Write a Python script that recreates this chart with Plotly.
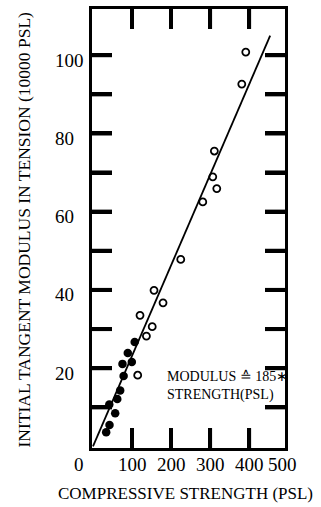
import plotly.graph_objects as go

# Data
open_x = [391.5, 381.3, 311.0, 306.9, 317.2, 281.3, 224.9, 156.4, 179.5, 120.5, 151.8, 136.9, 114.6]
open_y = [100.8, 92.6, 75.5, 68.9, 65.9, 62.5, 47.8, 39.9, 36.7, 33.5, 30.6, 28.2, 18.2]
filled_x = [106.9, 89.2, 75.6, 99.5, 78.5, 69.7, 62.3, 41.8, 56.9, 42.3, 33.8]
filled_y = [26.7, 23.9, 21.1, 21.6, 18.0, 14.3, 12.1, 10.7, 8.5, 5.5, 3.6]
fit_x = [0, 454]
fit_y = [0, 105]
x_ticks = [100, 200, 300, 400]
x_tick_labels = ["100", "200", "300", "400"]
y_ticks = [10, 20, 30, 40, 50, 60, 70, 80, 90, 100]
y_label_vals = [20, 40, 60, 80, 100]

FONT = "Liberation Serif"
W, H = 321, 507
ML, MR, MT, MB = 92, 36, 6, 59
PW = W - ML - MR
PH = H - MT - MB
X_RANGE = [-2.5, 492]
Y_RANGE = [-0.4, 111.8]
XU = (X_RANGE[1] - X_RANGE[0]) / PW
YU = (Y_RANGE[1] - Y_RANGE[0]) / PH
TL = 20

def px_x(p):
    return (p - ML) / PW

def px_y(p):
    return (H - MB - p) / PH

fig = go.Figure()

# tick marks as individual line traces (one per tick, no gaps)
for v in y_ticks:
    for xs in ([X_RANGE[0], X_RANGE[0] + TL * XU], [X_RANGE[1] - TL * XU, X_RANGE[1]]):
        fig.add_trace(go.Scatter(x=xs, y=[v, v], mode="lines",
                                 line=dict(color="black", width=4), hoverinfo="skip"))
for v in x_ticks:
    for ys in ([Y_RANGE[0], Y_RANGE[0] + TL * YU], [Y_RANGE[1] - TL * YU, Y_RANGE[1]]):
        fig.add_trace(go.Scatter(x=[v, v], y=ys, mode="lines",
                                 line=dict(color="black", width=4), hoverinfo="skip"))

fig.add_trace(go.Scatter(x=fit_x, y=fit_y, mode="lines",
                         line=dict(color="black", width=1.8), hoverinfo="skip"))
fig.add_trace(go.Scatter(x=open_x, y=open_y, mode="markers",
                         marker=dict(symbol="circle-open", size=7, color="black",
                                     line=dict(width=1.8))))
fig.add_trace(go.Scatter(x=filled_x, y=filled_y, mode="markers",
                         marker=dict(symbol="circle", size=8.5, color="black")))

ann = []
for v, t in zip(x_ticks, x_tick_labels):
    ann.append(dict(x=v, xref="x", y=px_y(465), yref="paper", text=t, showarrow=False,
                    xanchor="center", yanchor="middle", font=dict(family=FONT, size=19, color="black")))
ann.append(dict(x=px_x(79), xref="paper", y=px_y(465), yref="paper", text="0", showarrow=False,
                xanchor="center", yanchor="middle", font=dict(family=FONT, size=19, color="black")))
ann.append(dict(x=px_x(282), xref="paper", y=px_y(465), yref="paper", text="500", showarrow=False,
                xanchor="center", yanchor="middle", font=dict(family=FONT, size=19, color="black")))
for v in y_label_vals:
    ann.append(dict(x=px_x(53), xref="paper", y=v, yref="y", yshift=-5, text=str(v), showarrow=False,
                    xanchor="left", yanchor="middle", font=dict(family=FONT, size=19, color="black")))
ann.append(dict(x=px_x(185), xref="paper", y=px_y(494), yref="paper",
                text="COMPRESSIVE STRENGTH (PSL)", showarrow=False,
                xanchor="center", yanchor="middle", font=dict(family=FONT, size=17, color="black")))
ann.append(dict(x=px_x(24), xref="paper", y=px_y(228), yref="paper",
                text="INITIAL TANGENT MODULUS IN TENSION (10000 PSL)", showarrow=False, textangle=-90,
                xanchor="center", yanchor="middle", font=dict(family=FONT, size=17.5, color="black")))
ann.append(dict(x=px_x(165), xref="paper", y=px_y(386), yref="paper",
                text="MODULUS ≙ 185∗<br>STRENGTH(PSL)", showarrow=False, align="left",
                xanchor="left", yanchor="middle", font=dict(family=FONT, size=14, color="black")))

# tick marks also as shapes (same geometry)
shapes = []
for v in y_ticks:
    shapes.append(dict(type="line", xref="paper", yref="y", x0=0, x1=TL / PW, y0=v, y1=v,
                       line=dict(color="black", width=4)))
    shapes.append(dict(type="line", xref="paper", yref="y", x0=1 - TL / PW, x1=1, y0=v, y1=v,
                       line=dict(color="black", width=4)))
for v in x_ticks:
    shapes.append(dict(type="line", xref="x", yref="paper", x0=v, x1=v, y0=0, y1=TL / PH,
                       line=dict(color="black", width=4)))
    shapes.append(dict(type="line", xref="x", yref="paper", x0=v, x1=v, y0=1 - TL / PH, y1=1,
                       line=dict(color="black", width=4)))

axis_common = dict(showticklabels=False, ticks="inside", ticklen=TL, tickwidth=4, tickcolor="black",
                   showline=True, linecolor="black", linewidth=3, mirror="allticks",
                   showgrid=False, zeroline=False)

fig.update_layout(
    template="simple_white",
    width=W, height=H,
    margin=dict(l=ML, r=MR, t=MT, b=MB),
    showlegend=False,
    annotations=ann,
    shapes=shapes,
    xaxis=dict(range=X_RANGE, tickvals=x_ticks, **axis_common),
    yaxis=dict(range=Y_RANGE, tickvals=y_ticks, **axis_common),
)

fig.write_html("out.html")
